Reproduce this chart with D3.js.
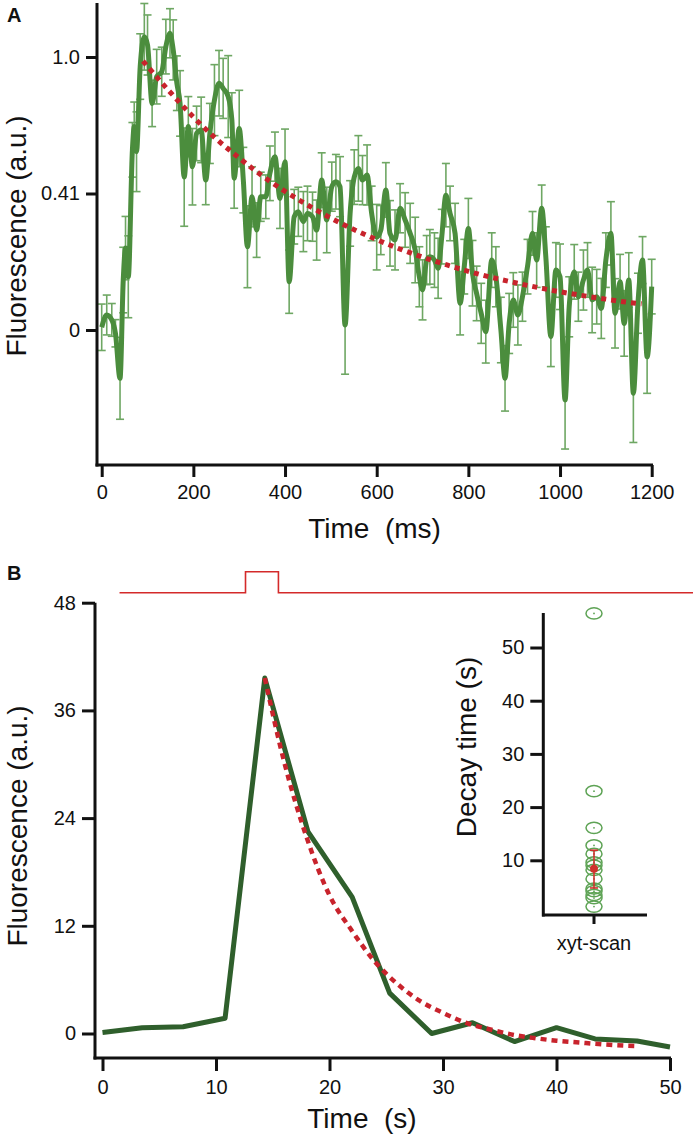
<!DOCTYPE html>
<html>
<head>
<meta charset="utf-8">
<script src="https://cdn.jsdelivr.net/npm/d3@7"></script>
<style>
  html, body { margin: 0; padding: 0; background: #fff; }
  svg { display: block; font-family: "Liberation Sans", Arial, sans-serif; }
</style>
</head>
<body>
<svg id="chart" width="693" height="1138"></svg>
<script>
// ---------------- Panel A data ----------------
const timeA = [0,11,22,30,40,47,52,58,67,71,76,84,93,100,110,120,131,140,149,156,
  164,171,180,189,198,207,217,227,236,246,256,265,276,284,289,300,309,318,328,338,
  347,358,367,378,389,400,409,420,429,440,449,460,469,480,491,502,511,520,531,542,
  551,560,569,579,589,600,609,620,629,640,651,662,673,684,693,700,709,716,726,734,
  742,751,760,771,782,791,800,809,818,828,838,851,860,871,880,889,898,908,918,929,
  940,949,960,969,980,991,1000,1011,1020,1031,1040,1051,1060,1070,1080,1090,1100,1111,1120,1131,
  1140,1150,1160,1170,1180,1190,1200];
const fluorA = [0.01,0.055,0.037,-0.012,-0.177,0.183,0.30,0.195,0.66,0.745,0.653,0.965,1.074,1.044,0.83,0.928,0.946,1.038,1.087,1.026,
  0.904,0.83,0.56,0.745,0.598,0.72,0.733,0.549,0.72,0.842,0.904,0.885,0.855,0.769,0.556,0.738,0.549,0.305,0.488,0.366,
  0.488,0.488,0.574,0.635,0.482,0.616,0.177,0.415,0.433,0.397,0.427,0.415,0.366,0.549,0.403,0.525,0.543,0.525,0.018,0.427,
  0.56,0.592,0.549,0.568,0.427,0.34,0.366,0.513,0.354,0.33,0.446,0.403,0.354,0.293,0.195,0.147,0.256,0.268,0.256,0.226,
  0.342,0.494,0.427,0.354,0.098,0.232,0.372,0.208,0.134,0.061,-0.006,0.256,0.195,0.0,-0.177,0.024,0.11,0.055,0.122,0.232,
  0.354,0.256,0.446,0.268,-0.024,0.22,0.195,-0.256,0.085,0.213,0.122,0.183,0.22,0.11,0.122,0.079,0.256,0.354,0.061,0.177,
  0.024,0.183,-0.232,0.098,0.256,-0.098,0.159];
const errA = [0.085,0.073,0.06,0.05,0.15,0.12,0.116,0.15,0.10,0.09,
  0.146,0.12,0.122,0.11,0.085,0.10,0.09,0.10,0.09,0.11,
  0.10,0.12,0.18,0.11,0.14,0.10,0.12,0.09,0.11,0.13,
  0.12,0.11,0.15,0.10,0.11,0.14,0.12,0.15,0.11,0.10,
  0.09,0.08,0.10,0.09,0.11,0.12,0.116,0.10,0.09,0.11,
  0.10,0.09,0.11,0.10,0.12,0.09,0.10,0.11,0.18,0.12,
  0.10,0.12,0.09,0.11,0.10,0.12,0.09,0.10,0.12,0.11,
  0.09,0.10,0.11,0.12,0.11,0.11,0.09,0.10,0.10,0.11,
  0.10,0.116,0.10,0.11,0.116,0.10,0.11,0.12,0.10,0.11,
  0.115,0.10,0.11,0.12,0.12,0.11,0.10,0.11,0.09,0.10,
  0.08,0.10,0.085,0.11,0.11,0.10,0.12,0.18,0.11,0.10,
  0.09,0.11,0.10,0.12,0.10,0.11,0.10,0.116,0.127,0.10,
  0.12,0.10,0.18,0.11,0.086,0.134,0.10];
const fitTimeA = [90,150,200,250,300,350,400,450,500,550,600,650,700,750,800,850,900,950,1000,1050,1100,1150,1178];
const fitA = [0.985,0.87,0.78,0.70,0.63,0.565,0.508,0.457,0.41,0.368,0.331,0.297,0.267,0.24,0.215,0.193,0.174,0.156,0.14,0.126,0.113,0.101,0.096];
const xTicksA = [0,200,400,600,800,1000,1200];
const yTickValuesA = [0, 0.5, 1.0];
const yTickLabelsA = ["0", "0.41", "1.0"];

// ---------------- Panel B data ----------------
const timeB = [0,3.5,7.1,10.8,14.3,18.1,22.0,25.3,29.0,32.6,36.3,40.0,43.4,47.1,50.0];
const fluorB = [0.1,0.65,0.76,1.7,39.6,22.5,15.2,4.5,0.0,1.2,-0.9,0.65,-0.6,-0.84,-1.5];
const fitTimeB = [14.3,16,18,20,22,24,26,28,30,32,34,36,38,40,42,44,46,47.2];
const fitB = [39.6,30.3,21.8,15.4,11.4,8.0,5.5,3.6,2.3,1.2,0.5,-0.1,-0.5,-0.8,-1.0,-1.2,-1.35,-1.4];
const xTicksB = [0,10,20,30,40,50];
const yTicksB = [0,12,24,36,48];
const stimTime = [1.5,12.6,12.6,15.5,15.5,52.1];
const stimLevel = [0,0,1,1,0,0];

// ---------------- Inset data ----------------
const decayTimes = [56.4,23.0,16.1,12.8,11.2,9.6,9.0,8.2,6.5,4.7,4.2,3.5,2.9,1.3];
const decayMean = [8.4];
const decayLow = [4.8];
const decayHigh = [11.9];
const insetTicks = [10,20,30,40,50];
const insetCategory = ["xyt-scan"];

// ---------------- Drawing ----------------
const svg = d3.select("#chart");
svg.append("rect").attr("width",693).attr("height",1138).attr("fill","#fff");

const GREEN_A = "#4b8d3d", GREEN_ERR = "#5f9e53", GREEN_B = "#2f5f2c", RED = "#c8232c";
const TICK_FONT = 20, TITLE_FONT = 28;

function styleAxis(g, fontSize) {
  g.select(".domain").remove();
  g.selectAll(".tick line").attr("stroke","#111").attr("stroke-width",3);
  g.selectAll(".tick text").attr("fill","#111").style("font-size", fontSize+"px")
    .style("font-family","'Liberation Sans', Arial, sans-serif");
}
function title(g, txt) {
  return g.append("text").attr("text-anchor","middle").attr("fill","#111")
    .style("font-size",TITLE_FONT+"px").style("white-space","pre").attr("xml:space","preserve").text(txt);
}

// ===== Panel A =====
const xA = d3.scaleLinear().domain([0,1200]).range([101.7,651.7]);
const yA = d3.scaleLinear().domain([0,1]).range([330,57]);
const gA = svg.append("g");

const ptsA = timeA.map((t,i)=>({t, v: fluorA[i], e: errA[i]}));
const eb = gA.append("g").attr("stroke",GREEN_ERR).attr("stroke-width",1.6).attr("fill","none").attr("opacity",0.9);
ptsA.forEach(p => {
  const x = xA(p.t), y1 = yA(p.v + p.e), y2 = yA(p.v - p.e);
  eb.append("line").attr("x1",x).attr("x2",x).attr("y1",y1).attr("y2",y2);
  eb.append("line").attr("x1",x-4).attr("x2",x+4).attr("y1",y1).attr("y2",y1);
  eb.append("line").attr("x1",x-4).attr("x2",x+4).attr("y1",y2).attr("y2",y2);
});
gA.append("path").datum(ptsA)
  .attr("d", d3.line().x(d=>xA(d.t)).y(d=>yA(d.v)).curve(d3.curveMonotoneX))
  .attr("fill","none").attr("stroke",GREEN_A).attr("stroke-width",5).attr("stroke-linejoin","round");
gA.append("path").datum(fitTimeA.map((t,i)=>({t, v: fitA[i]})))
  .attr("d", d3.line().x(d=>xA(d.t)).y(d=>yA(d.v)).curve(d3.curveMonotoneX))
  .attr("fill","none").attr("stroke",RED).attr("stroke-width",5).attr("stroke-dasharray","5,5");

gA.append("line").attr("x1",97).attr("x2",97).attr("y1",3).attr("y2",466.5).attr("stroke","#111").attr("stroke-width",3);
gA.append("line").attr("x1",95.5).attr("x2",653).attr("y1",465).attr("y2",465).attr("stroke","#111").attr("stroke-width",3);
const axLA = gA.append("g").attr("transform","translate(97,0)")
  .call(d3.axisLeft(yA).tickValues(yTickValuesA).tickFormat((d,i)=>yTickLabelsA[i]).tickSize(11).tickPadding(6));
styleAxis(axLA, TICK_FONT);
const axBA = gA.append("g").attr("transform","translate(0,465)")
  .call(d3.axisBottom(xA).tickValues(xTicksA).tickFormat(d3.format("d")).tickSize(12).tickPadding(8));
styleAxis(axBA, TICK_FONT);
title(gA, "Time  (ms)").attr("x",374.5).attr("y",538);
title(gA, "Fluorescence (a.u.)").attr("transform","translate(26,236) rotate(-90)");
gA.append("text").attr("x",7).attr("y",22).style("font-size","20px").style("font-weight","bold").attr("fill","#111").text("A");

// ===== Panel B =====
const xB = d3.scaleLinear().domain([0,50]).range([102.5,670]);
const yB = d3.scaleLinear().domain([0,48]).range([1033.5,602.7]);
const gB = svg.append("g");

const yS = d3.scaleLinear().domain([0,1]).range([592.7,571.7]);
gB.append("path").datum(stimTime.map((t,i)=>({t, v: stimLevel[i]})))
  .attr("d", d3.line().x(d=>xB(d.t)).y(d=>yS(d.v)))
  .attr("fill","none").attr("stroke","#d42a2a").attr("stroke-width",1.6);

gB.append("path").datum(timeB.map((t,i)=>({t, v: fluorB[i]})))
  .attr("d", d3.line().x(d=>xB(d.t)).y(d=>yB(d.v)))
  .attr("fill","none").attr("stroke",GREEN_B).attr("stroke-width",5).attr("stroke-linejoin","round");
gB.append("path").datum(fitTimeB.map((t,i)=>({t, v: fitB[i]})))
  .attr("d", d3.line().x(d=>xB(d.t)).y(d=>yB(d.v)).curve(d3.curveMonotoneX))
  .attr("fill","none").attr("stroke",RED).attr("stroke-width",4.5).attr("stroke-dasharray","6,5");

gB.append("line").attr("x1",95).attr("x2",95).attr("y1",602.7).attr("y2",1059.5).attr("stroke","#111").attr("stroke-width",3);
gB.append("line").attr("x1",93.5).attr("x2",671).attr("y1",1058).attr("y2",1058).attr("stroke","#111").attr("stroke-width",3);
const axLB = gB.append("g").attr("transform","translate(95,0)")
  .call(d3.axisLeft(yB).tickValues(yTicksB).tickFormat(d3.format("d")).tickSize(13).tickPadding(6));
styleAxis(axLB, TICK_FONT);
const axBB = gB.append("g").attr("transform","translate(0,1058)")
  .call(d3.axisBottom(xB).tickValues(xTicksB).tickFormat(d3.format("d")).tickSize(13).tickPadding(9));
styleAxis(axBB, TICK_FONT);
title(gB, "Time  (s)").attr("x",362).attr("y",1128);
title(gB, "Fluorescence (a.u.)").attr("transform","translate(27,826) rotate(-90)");
gB.append("text").attr("x",7).attr("y",580).style("font-size","20px").style("font-weight","bold").attr("fill","#111").text("B");

// ===== Inset =====
const xI = d3.scaleBand().domain(insetCategory).range([543,645]).padding(0);
const yI = d3.scaleLinear().domain([0,50]).range([913.5,647.5]);
const gI = svg.append("g");
gI.append("line").attr("x1",543.3).attr("x2",543.3).attr("y1",613).attr("y2",916.5).attr("stroke","#111").attr("stroke-width",3);
gI.append("line").attr("x1",542).attr("x2",647).attr("y1",915).attr("y2",915).attr("stroke","#111").attr("stroke-width",3);
const axLI = gI.append("g").attr("transform","translate(543.3,0)")
  .call(d3.axisLeft(yI).tickValues(insetTicks).tickFormat(d3.format("d")).tickSize(13).tickPadding(6));
styleAxis(axLI, TICK_FONT);
const axBI = gI.append("g").attr("transform","translate(0,915)")
  .call(d3.axisBottom(xI).tickSize(9).tickPadding(12));
styleAxis(axBI, 20);
title(gI, "Decay time (s)").attr("transform","translate(476,747) rotate(-90)");

const cx = xI("xyt-scan") + xI.bandwidth()/2;
const dots = gI.append("g");
decayTimes.forEach(v => {
  dots.append("ellipse").attr("cx",cx).attr("cy",yI(v)).attr("rx",8).attr("ry",5.6)
    .attr("fill","none").attr("stroke","#5ea355").attr("stroke-width",1.5);
  dots.append("circle").attr("cx",cx).attr("cy",yI(v)).attr("r",0.9).attr("fill","#5ea355");
});
gI.append("line").attr("x1",cx).attr("x2",cx).attr("y1",yI(decayLow[0])).attr("y2",yI(decayHigh[0]))
  .attr("stroke","#d0312d").attr("stroke-width",1.6);
[decayLow[0], decayHigh[0]].forEach(v => gI.append("line").attr("x1",cx-4).attr("x2",cx+4)
  .attr("y1",yI(v)).attr("y2",yI(v)).attr("stroke","#d0312d").attr("stroke-width",1.6));
gI.append("circle").attr("cx",cx).attr("cy",yI(decayMean[0])).attr("r",4).attr("fill","#d0312d");
</script>
</body>
</html>
